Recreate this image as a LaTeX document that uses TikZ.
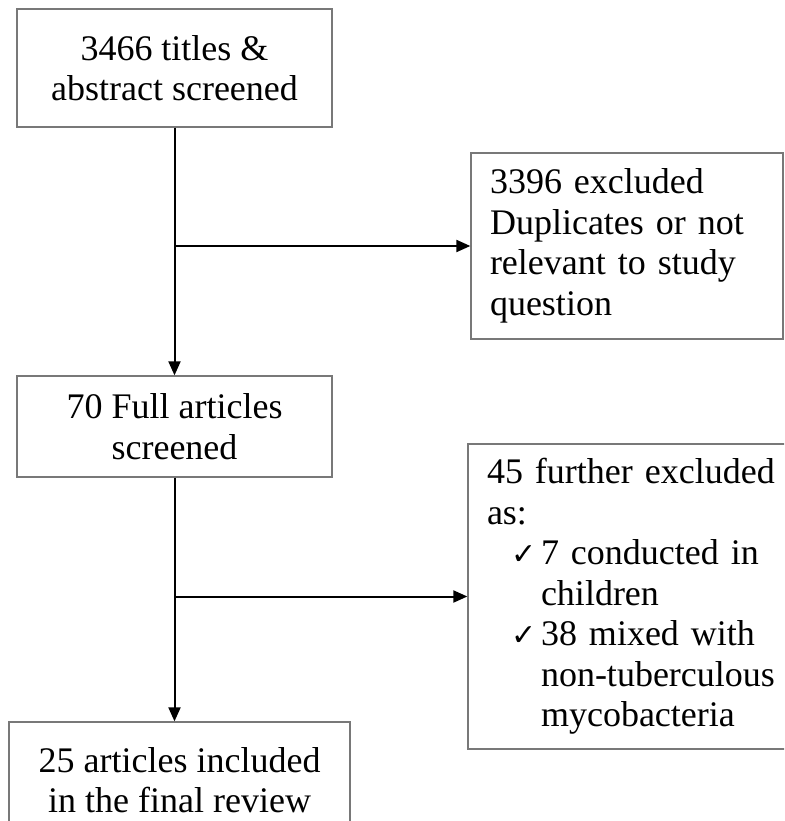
\documentclass[tikz,border=0pt]{standalone}
\usepackage{fontspec}
\setmainfont{Liberation Serif}
\newfontfamily\symfont{DejaVu Sans}
\usetikzlibrary{arrows.meta}

\definecolor{boxgray}{RGB}{120,120,120}

\tikzset{
  flowbox/.style={draw=boxgray, line width=1.3pt, inner sep=0pt, align=center,
    font=\fontsize{36}{40.5}\selectfont},
  leftbox/.style={flowbox, align=left, inner xsep=19pt},
  flowarrow/.style={line width=2pt, -{Triangle[length=14pt,width=12pt]}},
}
\newcommand{\tick}{\makebox[30pt][l]{\symfont\fontsize{30}{30}\selectfont ✓}}

\begin{document}
\begin{tikzpicture}[x=1pt,y=-1pt]
                    \useasboundingbox (0,0) rectangle (784,821);
                    \clip (0,0) rectangle (784,821);

                    % Drawing box titles
                    \node [flowbox, minimum width=315pt, minimum height=118pt] (titles) at (174.5,68)
                      {3466 titles \&\\abstract screened};%

                    % Drawing box excluded
                    \node [leftbox, text width=274pt, minimum height=186pt] (excl) at (627,246)
                      {3396 excluded\\Duplicates or not\\relevant to study\\question};%

                    % Drawing box full
                    \node [flowbox, minimum width=315pt, minimum height=101pt] (full) at (174.5,426.5)
                      {70 Full articles\\screened};%

                    % Drawing box further
                    \node [leftbox, text width=300pt, minimum height=305pt] (further) at (637,596.5)
                      {45 further excluded\\as:\\
                       \hspace*{24pt}\tick 7 conducted in\\
                       \hspace*{54pt}children\\
                       \hspace*{24pt}\tick 38 mixed with\\
                       \hspace*{54pt}non-tuberculous\\
                       \hspace*{54pt}mycobacteria};%

                    % Drawing box included
                    \node [flowbox, minimum width=341pt, minimum height=116pt] (incl) at (179.5,780)
                      {25 articles included\\in the final review};%

                    % Marking split points
                    \coordinate (split1) at (titles.south |- excl.west);
                    \coordinate (split2) at (full.south |- further.west);

                    % Drawing arrows titles -> full -> included
                    \draw [flowarrow] (titles.south) -- (full.north);%
                    \draw [flowarrow] (full.south) -- (full.south |- incl.north);%

                    % Drawing arrows to the excluded boxes
                    \draw [flowarrow] (split1) -- (excl.west);%
                    \draw [flowarrow] (split2) -- (split2 -| further.west);%
\end{tikzpicture}
\end{document}
